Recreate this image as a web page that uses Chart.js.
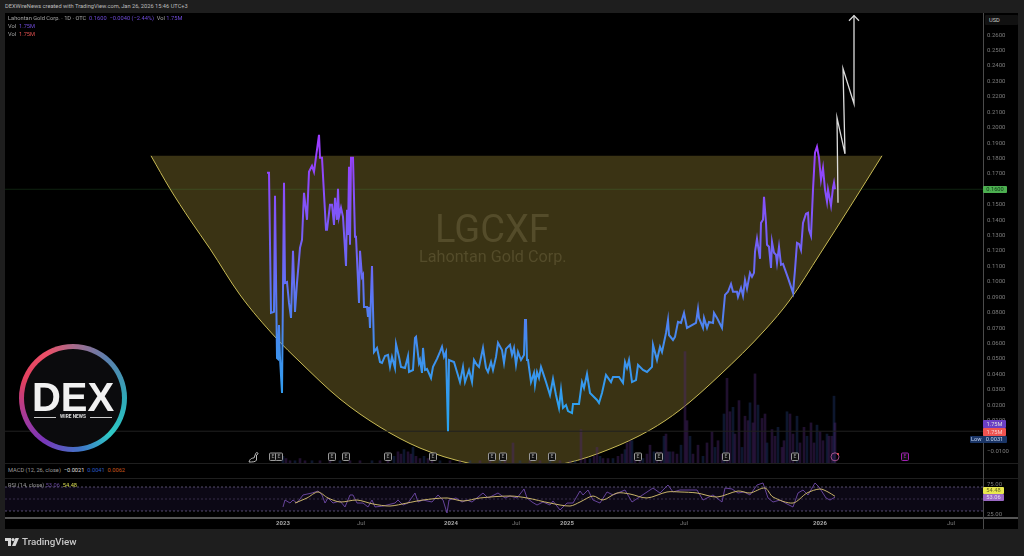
<!DOCTYPE html>
<html>
<head>
<meta charset="utf-8">
<title>LGCXF</title>
<script src="https://cdn.jsdelivr.net/npm/chart.js@4/dist/chart.umd.js"></script>
<style>
  html, body { margin: 0; padding: 0; background: #1e1e1e; }
  #page { position: relative; width: 1024px; height: 556px; overflow: hidden; background: #1e1e1e;
          font-family: Roboto, sans-serif; font-size: 5.7px; color: #b4b4b4; }
  #frame { position: absolute; left: 5px; top: 13px; width: 1013px; height: 516px; background: #000; }
  canvas { position: absolute; left: 5px; }
  .abs { position: absolute; white-space: nowrap; line-height: 1; }
  .hline { position: absolute; left: 5px; width: 1013px; height: 1px; background: #1f1f1f; }
  .tag { position: absolute; left: 983px; height: 8px; line-height: 8px; text-align: center; border-radius: 1px; }
</style>
</head>
<body>
<div id="page">
  <div id="frame"></div>
  <canvas id="priceChart" width="1013" height="450" style="top:13px"></canvas>
  <canvas id="rsiChart" width="1013" height="51" style="top:478px"></canvas>

  <div class="hline" style="top:463px"></div>
  <div class="hline" style="top:478px"></div>
  <div class="hline" style="top:517px;height:1.5px;background:#555"></div>
  <div class="abs" style="left:983px;top:13px;width:1px;height:516px;background:#4a4a4a"></div>

  <div class="abs" style="left:5px;top:4px;color:#bdbdbd">DEXWireNews created with TradingView.com, Jan 26, 2026 15:46 UTC+3</div>
  <div class="abs" style="left:8px;top:16px;color:#a8a8a8">Lahontan Gold Corp. · 1D · OTC&nbsp; <span style="color:#6f4bd8">0.1600 &nbsp;−0.0040 (−2.44%)</span> &nbsp;Vol <span style="color:#6f4bd8">1.75M</span></div>
  <div class="abs" style="left:8px;top:24px;color:#a8a8a8">Vol &nbsp;<span style="color:#6f4bd8">1.75M</span></div>
  <div class="abs" style="left:8px;top:32px;color:#a8a8a8">Vol &nbsp;<span style="color:#e0504f">1.75M</span></div>

  <div class="abs" style="left:435px;top:210px;font-size:38px;color:#544c2a">LGCXF</div>
  <div class="abs" style="left:419px;top:249px;font-size:16.2px;color:#544c2a">Lahontan Gold Corp.</div>

  <div class="abs" style="left:8px;top:468px;color:#9a9a9a">MACD (12, 26, close) &nbsp;<span style="color:#ddd">−0.0021</span> &nbsp;<span style="color:#2a5bc0">0.0041</span> &nbsp;<span style="color:#c8581e">0.0062</span></div>
  <div class="abs" style="left:8px;top:483px;color:#9a9a9a">RSI (14, close) <span style="color:#6a4aa0">53.06</span> &nbsp;<span style="color:#d8dc50">54.48</span></div>

  <div class="abs" style="left:985px;top:15px;width:33px;height:10px;line-height:10px;background:#111;border-radius:1px;color:#ccc;text-indent:4px">USD</div>
  <div class="tag" style="top:186px;width:24px;height:7px;line-height:7px;background:#4caf50;color:#12361a">0.1600</div>
  <div class="tag" style="top:420px;width:23px;background:#6a3fc4;color:#ddd">1.75M</div>
  <div class="tag" style="top:428px;width:23px;background:#ef5350;color:#f6c9c9">1.75M</div>
  <div class="tag" style="top:436px;left:970px;width:37px;height:7px;line-height:7px;background:#1a3566;color:#c3d2ee;text-align:left;text-indent:1px">Low &nbsp;&nbsp;0.0031</div>
  <div class="tag" style="top:487px;width:21px;height:7px;line-height:7px;background:#e8e84e;color:#6a6a20">54.48</div>
  <div class="tag" style="top:494px;width:21px;height:7px;line-height:7px;background:#9a68c4;color:#e4d4f2">53.06</div>

  <!-- dex logo -->
  <div class="abs" style="left:19px;top:344px;width:108px;height:108px;border-radius:50%;
       background:conic-gradient(from 0deg,#a86a8a,#5c7fae 40deg,#2fa9b8 90deg,#2fc9c6 135deg,#3f79c8 170deg,#7a35b8 215deg,#a83a98 250deg,#e2405f 290deg,#ec5068 330deg,#a86a8a)">
    <div style="position:absolute;left:5px;top:5px;width:98px;height:98px;border-radius:50%;background:#0b0b0d"></div>
    <div class="abs" style="left:12px;top:32.5px;width:84px;text-align:center;font:900 40px/1 'Liberation Sans',sans-serif;color:#f1f1f1">DEX</div>
    <div class="abs" style="left:15px;top:72.5px;width:22px;height:1px;background:#ccc"></div>
    <div class="abs" style="left:38px;top:70.5px;width:32px;text-align:center;font:700 4.8px/1 Roboto,sans-serif;color:#ddd">WIRE NEWS</div>
    <div class="abs" style="left:71px;top:72.5px;width:22px;height:1px;background:#ccc"></div>
  </div>

  <!-- small dino marker -->
  <svg class="abs" style="left:248px;top:451px" width="11" height="12" viewBox="0 0 11 12">
    <path d="M1 11 C2 7 5 7 6 7 L7.5 3 C8 1 10 1 10 3 L8.5 4 L8.5 9 C8 11 4 11 1 11 Z" fill="none" stroke="#ccc" stroke-width="0.9"/>
  </svg>

  <!-- tradingview footer -->
  <svg class="abs" style="left:5px;top:538px" width="14" height="8" viewBox="0 0 14 8">
    <path d="M0 0 H6 V8 H3 V3 H0 Z" fill="#d8d8d8"/><circle cx="8" cy="1.6" r="1.6" fill="#d8d8d8"/>
    <path d="M10.5 0 H14 L10.5 8 H7 Z" fill="#d8d8d8"/>
  </svg>
  <div class="abs" style="left:22px;top:537px;font-size:9.8px;font-weight:500;color:#c9c9c9">TradingView</div>
</div>

<script>
// x values are bar numbers along the time axis, y values are prices in USD
const timeTickBars = [283, 361, 451, 516, 567, 684, 820, 951];
const timeTickLabels = ['2023', 'Jul', '2024', 'Jul', '2025', 'Jul', '2026', 'Jul'];

const priceTicks = [-0.01, 0, 0.01, 0.02, 0.03, 0.04, 0.05, 0.06, 0.07, 0.08, 0.09, 0.10, 0.11, 0.12,
    0.13, 0.14, 0.15, 0.16, 0.17, 0.18, 0.19, 0.20, 0.21, 0.22, 0.23, 0.24, 0.25, 0.26];
const rsiTicks = [25, 75];

const priceBars = [
    267, 269, 271, 274, 275, 277, 278, 279, 280, 282,
    284, 285, 287, 289, 291, 293, 295, 297, 300, 302,
    304, 307, 309, 312, 314, 319, 320, 322, 326, 327,
    330, 332, 334, 335, 337, 338, 339, 341, 343, 346,
    347, 348, 349, 350, 351, 353, 355, 356, 359, 360,
    362, 363, 364, 367, 368, 369, 370, 372, 374, 377,
    380, 382, 385, 388, 390, 392, 395, 396, 399, 401,
    405, 408, 409, 413, 415, 416, 419, 420, 422, 423,
    425, 427, 431, 433, 437, 440, 442, 444, 446, 448,
    449, 454, 457, 460, 463, 465, 469, 472, 474, 477,
    479, 483, 486, 488, 491, 493, 496, 498, 502, 504,
    506, 510, 512, 514, 516, 518, 521, 524, 525, 526,
    527, 528, 531, 534, 535, 537, 539, 541, 543, 546,
    550, 553, 556, 559, 561, 563, 566, 568, 572, 573,
    579, 582, 584, 587, 590, 594, 597, 599, 602, 606,
    611, 613, 619, 623, 625, 627, 629, 632, 636, 638,
    643, 647, 652, 653, 657, 660, 662, 666, 668, 669,
    673, 675, 678, 681, 684, 687, 696, 698, 699, 703,
    704, 707, 709, 713, 714, 717, 722, 725, 728, 731,
    733, 737, 738, 741, 743, 745, 747, 750, 752, 754,
    755, 757, 760, 761, 763, 764, 766, 767, 769, 771,
    772, 774, 776, 777, 779, 781, 783, 788, 793, 795,
    797, 799, 801, 803, 806, 808, 809, 811, 813, 815,
    817, 819, 821, 823, 825, 827, 828, 831, 833, 834,
    835];
const priceValues = [
    0.1707, 0.1707, 0.0798, 0.0805, 0.1558, 0.0506, 0.0500, 0.0720, 0.0506, 0.0279,
    0.1642, 0.0993, 0.0999, 0.0863, 0.0766, 0.1201, 0.0805, 0.0993, 0.1220, 0.1272,
    0.1577, 0.1402, 0.1713, 0.1752, 0.1713, 0.1953, 0.1804, 0.1804, 0.1337, 0.1337,
    0.1499, 0.1499, 0.1369, 0.1545, 0.1402, 0.1603, 0.1421, 0.1480, 0.1421, 0.1103,
    0.1467, 0.1304, 0.1746, 0.1240, 0.1804, 0.1804, 0.1292, 0.1292, 0.0863, 0.1201,
    0.1032, 0.1045, 0.0837, 0.0837, 0.0772, 0.0837, 0.0701, 0.1103, 0.0545, 0.0571,
    0.0480, 0.0474, 0.0519, 0.0526, 0.0448, 0.0513, 0.0441, 0.0597, 0.0513, 0.0448,
    0.0441, 0.0519, 0.0415, 0.0428, 0.0636, 0.0643, 0.0474, 0.0493, 0.0409, 0.0571,
    0.0428, 0.0435, 0.0376, 0.0448, 0.0500, 0.0545, 0.0578, 0.0513, 0.0545, 0.0031,
    0.0493, 0.0480, 0.0415, 0.0350, 0.0448, 0.0350, 0.0428, 0.0350, 0.0493, 0.0461,
    0.0448, 0.0571, 0.0441, 0.0415, 0.0480, 0.0428, 0.0513, 0.0604, 0.0558, 0.0474,
    0.0565, 0.0591, 0.0526, 0.0571, 0.0461, 0.0545, 0.0493, 0.0526, 0.0753, 0.0753,
    0.0493, 0.0493, 0.0350, 0.0409, 0.0331, 0.0415, 0.0376, 0.0448, 0.0409, 0.0350,
    0.0266, 0.0370, 0.0266, 0.0182, 0.0299, 0.0182, 0.0201, 0.0162, 0.0149, 0.0208,
    0.0208, 0.0350, 0.0312, 0.0402, 0.0279, 0.0253, 0.0234, 0.0214, 0.0279, 0.0396,
    0.0350, 0.0383, 0.0383, 0.0344, 0.0480, 0.0441, 0.0493, 0.0350, 0.0363, 0.0461,
    0.0428, 0.0415, 0.0448, 0.0591, 0.0493, 0.0578, 0.0545, 0.0668, 0.0753, 0.0655,
    0.0623, 0.0643, 0.0740, 0.0733, 0.0798, 0.0701, 0.0733, 0.0824, 0.0766, 0.0701,
    0.0766, 0.0701, 0.0740, 0.0733, 0.0798, 0.0766, 0.0701, 0.0915, 0.0935, 0.0986,
    0.0935, 0.0935, 0.0902, 0.0961, 0.0909, 0.1012, 0.0954, 0.1058, 0.1032, 0.1058,
    0.1194, 0.1279, 0.1149, 0.1382, 0.1402, 0.1551, 0.1382, 0.1240, 0.1227, 0.1090,
    0.1259, 0.1188, 0.1175, 0.1123, 0.1227, 0.1110, 0.1116, 0.1025, 0.0928, 0.1077,
    0.1253, 0.1246, 0.1207, 0.1382, 0.1441, 0.1447, 0.1337, 0.1298, 0.1597, 0.1837,
    0.1876, 0.1804, 0.1661, 0.1739, 0.1597, 0.1519, 0.1597, 0.1493, 0.1610, 0.1642,
    0.1600];

const cupBars = [151, 170, 190, 210, 240, 276, 300, 340, 380, 420, 468, 517, 567, 610, 650, 680, 720, 765, 790, 820, 850, 882];
const cupValues = [0.1817, 0.1603, 0.1402, 0.1214, 0.0915, 0.0636, 0.0480, 0.0240, 0.0058, -0.0078, -0.0175,
    -0.0214, -0.0175, -0.0084, 0.0039, 0.0169, 0.0396, 0.0688, 0.0883, 0.1181, 0.1486, 0.1817];
const cupRim = 0.1817;

const forecastBars = [838, 837, 845, 843, 854, 854];
const forecastValues = [0.1512, 0.2064, 0.1830, 0.2382, 0.2155, 0.2726];
const arrowBars = [849, 854, 859];
const arrowValues = [0.2693, 0.2726, 0.2693];

const lastPrice = 0.16;
const lowPrice = 0.0031;

// volume in millions of shares
const volumeBars = [
    283, 286, 290, 295, 300, 305, 312, 320, 330, 340, 350, 360, 372, 380, 388, 394, 398, 401, 404, 408,
    411, 413, 416, 420, 424, 428, 432, 440, 450, 460, 470, 480, 490, 500, 505, 513, 520, 530, 540, 550,
    560, 570, 575, 581, 585, 590, 594, 597, 600, 603, 608, 613, 618, 622, 625, 627, 630, 632, 635, 640,
    643, 647, 650, 654, 657, 661, 664, 666, 668, 670, 673, 677, 681, 685, 687, 690, 693, 698, 703, 707,
    712, 715, 718, 722, 724, 727, 730, 733, 735, 739, 742, 745, 748, 750, 753, 755, 758, 762, 765, 767,
    772, 775, 778, 782, 784, 787, 790, 793, 797, 800, 804, 807, 811, 814, 817, 820, 823, 827, 829, 832,
    834, 835];
const volumeValues = [
    0.3, 0.2, 0.1, 0.1, 0.2, 0.1, 0.1, 0.1, 0.1, 0.1, 0.1, 0.1, 0.1, 0.1, 0.2, 0.3, 0.5, 0.4, 0.6, 0.5,
    0.4, 0.7, 0.3, 0.2, 0.3, 0.2, 0.2, 0.1, 0.1, 0.1, 0.1, 0.1, 0.1, 0.1, 0.2, 0.9, 0.1, 0.1, 0.1, 0.1,
    0.1, 0.1, 0.1, 1.5, 0.2, 0.2, 0.3, 0.7, 0.3, 0.2, 0.2, 0.2, 0.3, 0.4, 0.6, 0.9, 1.0, 1.0, 0.4, 0.3,
    0.2, 0.4, 0.8, 0.5, 0.5, 0.5, 1.2, 1.3, 0.5, 0.5, 0.5, 0.4, 0.8, 5.0, 1.9, 1.2, 0.4, 0.8, 0.3, 0.9,
    1.4, 0.7, 1.0, 0.4, 2.2, 3.8, 2.3, 2.5, 1.3, 2.8, 0.7, 2.1, 1.9, 2.7, 1.8, 4.0, 2.6, 2.0, 2.2, 0.9,
    1.5, 1.2, 1.6, 0.7, 1.0, 2.3, 2.2, 1.3, 2.1, 0.9, 1.6, 1.2, 1.8, 0.9, 1.7, 1.4, 1.0, 1.3, 1.2, 1.2,
    3.0, 1.8];

const earningsBars = [273, 279, 332, 346, 388, 433, 492, 503, 533, 552, 638, 659, 726, 795];
const nextEarningsBar = 905;
const todayBar = 835;

const rsiBars = [
    283, 285, 290, 293, 297, 303, 312, 318, 322, 325, 328, 333, 340, 345, 350, 353, 357, 363, 368, 372,
    375, 383, 395, 398, 403, 408, 415, 418, 423, 432, 438, 443, 447, 449, 456, 462, 467, 472, 478, 483,
    488, 498, 505, 510, 517, 524, 527, 532, 537, 543, 550, 553, 560, 567, 573, 580, 583, 588, 593, 600,
    607, 613, 625, 632, 638, 653, 660, 668, 673, 680, 690, 697, 703, 713, 722, 725, 732, 738, 744, 750,
    757, 763, 768, 773, 780, 787, 793, 798, 803, 808, 815, 819, 826, 830, 835];
const rsiValues = [
    36.7, 48.3, 43.3, 48.3, 43.3, 56.7, 60, 63.3, 56.7, 43.3, 51.7, 43.3, 46.7, 36.7, 56.7, 56.7, 43.3, 43.3, 36.7, 48.3,
    36.7, 38.3, 43.3, 48.3, 40, 43.3, 60, 45, 48.3, 45, 56.7, 48.3, 26.7, 48.3, 51.7, 45, 48.3, 45, 53.3, 60,
    51.7, 60, 51.7, 55, 51.7, 66.7, 51.7, 45, 40, 45, 40, 46.7, 31.7, 43.3, 43.3, 63.3, 56.7, 65, 48.3, 43.3,
    61.7, 56.7, 65, 45, 51.7, 68.3, 60, 73.3, 61.7, 65, 65, 65, 48.3, 56.7, 45, 68.3, 66.7, 60, 61.7, 56.7,
    73.3, 76.7, 51.7, 45, 48.3, 41.7, 36.7, 60, 65, 56.7, 76.7, 70, 51.7, 48.3, 53.06];

const rsiMaBars = [295, 307, 318, 328, 340, 357, 373, 390, 407, 423, 447, 463, 480, 510, 527, 550, 570, 580, 593, 603,
    617, 630, 647, 667, 680, 697, 717, 738, 750, 765, 773, 793, 807, 820, 828, 835];
const rsiMaValues = [43.3, 51.7, 61.7, 51.7, 45, 48.3, 41.7, 38.3, 43.3, 48.3, 51.7, 46.7, 51.7, 55, 51.7, 43.3, 38.3, 45, 55, 48.3,
    60, 58.3, 51.7, 61.7, 61.7, 60, 53.3, 63.3, 60, 68.3, 53.3, 43.3, 60, 66.7, 61.7, 54.48];

const rsiBandTop = 70;
const rsiBandMid = 50;
const rsiBandBottom = 30;

const xMin = 5;
const xMax = 983;

function toPoints(xs, ys) {
    return xs.map((x, i) => ({ x: x, y: ys[i] }));
}

function flatLine(value) {
    return [{ x: xMin, y: value }, { x: xMax, y: value }];
}

// keep the plot area flush with the canvas, labels may overhang
function fitRightAxis(axis) {
    axis.width = 35;
    axis.paddingTop = 0;
    axis.paddingBottom = 0;
}

function priceGradient(context) {
    const chart = context.chart;
    if (!chart.chartArea) return '#5b7bff';
    const y = chart.scales.y;
    const g = chart.ctx.createLinearGradient(0, y.getPixelForValue(0.19), 0, y.getPixelForValue(0.01));
    g.addColorStop(0, '#9c3cff');
    g.addColorStop(0.45, '#6a69f5');
    g.addColorStop(0.75, '#3f90ee');
    g.addColorStop(1, '#2aa3ee');
    return g;
}

// E boxes and the session marker along the bottom of the price pane
const eventMarkers = {
    id: 'eventMarkers',
    afterDatasetsDraw(chart) {
        const ctx = chart.ctx;
        const x = chart.scales.x;
        const top = chart.chartArea.bottom - 10;

        function box(bar, color) {
            const px = x.getPixelForValue(bar);
            ctx.strokeStyle = color;
            ctx.lineWidth = 1;
            ctx.fillStyle = '#111';
            ctx.beginPath();
            ctx.roundRect(px - 3.5, top, 7, 7.5, 1);
            ctx.fill();
            ctx.stroke();
            ctx.fillStyle = color;
            ctx.font = '5px Roboto';
            ctx.textAlign = 'center';
            ctx.textBaseline = 'middle';
            ctx.fillText('E', px, top + 4);
        }

        ctx.save();
        earningsBars.forEach(bar => box(bar, '#9a9a9a'));
        box(nextEarningsBar, '#a020b0');
        const px = x.getPixelForValue(todayBar);
        ctx.strokeStyle = '#a0508c';
        ctx.beginPath();
        ctx.arc(px, top + 3.8, 4, 0, Math.PI * 2);
        ctx.stroke();
        ctx.fillStyle = '#ef5350';
        ctx.beginPath();
        ctx.arc(px + 3, top + 1, 1, 0, Math.PI * 2);
        ctx.fill();
        ctx.restore();
    }
};

new Chart(document.getElementById('priceChart').getContext('2d'), {
    type: 'line',
    data: {
        datasets: [
            {
                data: toPoints(cupBars, cupValues),
                borderColor: '#c9bb55',
                borderWidth: 1,
                backgroundColor: '#3a3314',
                fill: { value: cupRim },
                cubicInterpolationMode: 'monotone',
                pointRadius: 0,
                order: 6
            },
            {
                type: 'bar',
                yAxisID: 'yVolume',
                data: toPoints(volumeBars, volumeValues),
                barThickness: 2,
                backgroundColor: ctx => ctx.dataIndex % 3 === 0 ? 'rgba(30,56,110,0.42)' : 'rgba(76,38,112,0.42)',
                order: 5
            },
            {
                data: flatLine(lastPrice),
                borderColor: 'rgba(76,175,80,0.2)',
                borderWidth: 1,
                pointRadius: 0,
                order: 4
            },
            {
                data: flatLine(lowPrice),
                borderColor: '#202020',
                borderWidth: 1,
                pointRadius: 0,
                order: 4
            },
            {
                data: toPoints(priceBars, priceValues),
                borderColor: priceGradient,
                borderWidth: 2,
                pointRadius: 0,
                order: 2
            },
            {
                data: toPoints(forecastBars, forecastValues),
                borderColor: '#dcdcdc',
                borderWidth: 1.3,
                pointRadius: 0,
                order: 1
            },
            {
                data: toPoints(arrowBars, arrowValues),
                borderColor: '#dcdcdc',
                borderWidth: 1.3,
                pointRadius: 0,
                order: 1
            }
        ]
    },
    plugins: [eventMarkers],
    options: {
        responsive: false,
        animation: false,
        layout: { padding: 0 },
        plugins: { legend: { display: false }, tooltip: { enabled: false } },
        scales: {
            x: {
                type: 'linear',
                min: xMin,
                max: xMax,
                offset: false,
                display: false
            },
            y: {
                position: 'right',
                min: -0.0175,
                max: 0.2743,
                grid: { display: false, drawTicks: false },
                border: { display: false },
                afterBuildTicks: axis => { axis.ticks = priceTicks.map(v => ({ value: v })); },
                afterFit: fitRightAxis,
                ticks: {
                    autoSkip: false,
                    color: '#7d7d7d',
                    font: { family: 'Roboto', size: 6 },
                    padding: 4,
                    callback: v => (v < 0 ? '−' : '') + Math.abs(v).toFixed(4)
                }
            },
            yVolume: {
                display: false,
                min: 0,
                max: 20.2
            }
        }
    }
});

new Chart(document.getElementById('rsiChart').getContext('2d'), {
    type: 'line',
    data: {
        datasets: [
            {
                data: flatLine(rsiBandTop),
                borderColor: 'rgba(150,135,190,0.7)',
                borderWidth: 0.8,
                borderDash: [2, 2],
                backgroundColor: 'rgba(110,70,190,0.11)',
                fill: { value: rsiBandBottom },
                pointRadius: 0,
                order: 4
            },
            {
                data: flatLine(rsiBandMid),
                borderColor: 'rgba(150,135,190,0.4)',
                borderWidth: 0.8,
                borderDash: [2, 2],
                pointRadius: 0,
                order: 4
            },
            {
                data: flatLine(rsiBandBottom),
                borderColor: 'rgba(150,135,190,0.7)',
                borderWidth: 0.8,
                borderDash: [2, 2],
                pointRadius: 0,
                order: 4
            },
            {
                data: toPoints(rsiBars, rsiValues),
                borderColor: '#6f4aa8',
                borderWidth: 0.9,
                pointRadius: 0,
                order: 2
            },
            {
                data: toPoints(rsiMaBars, rsiMaValues),
                borderColor: '#c9b46a',
                borderWidth: 1,
                tension: 0.3,
                pointRadius: 0,
                order: 1
            }
        ]
    },
    options: {
        responsive: false,
        animation: false,
        layout: { padding: 0 },
        plugins: { legend: { display: false }, tooltip: { enabled: false } },
        scales: {
            x: {
                type: 'linear',
                min: xMin,
                max: xMax,
                offset: false,
                grid: { display: false, drawTicks: false },
                border: { display: false },
                afterBuildTicks: axis => { axis.ticks = timeTickBars.map(v => ({ value: v })); },
                afterFit: axis => { axis.height = 12; },
                ticks: {
                    autoSkip: false,
                    maxRotation: 0,
                    padding: 3,
                    color: ctx => /^\d/.test(timeTickLabels[ctx.index]) ? '#a8a8a8' : '#7d7d7d',
                    font: ctx => ({
                        family: 'Roboto',
                        size: 6,
                        weight: /^\d/.test(timeTickLabels[ctx.index]) ? 'bold' : 'normal'
                    }),
                    callback: (v, i) => timeTickLabels[i]
                }
            },
            y: {
                position: 'right',
                min: 20,
                max: 85,
                grid: { display: false, drawTicks: false },
                border: { display: false },
                afterBuildTicks: axis => { axis.ticks = rsiTicks.map(v => ({ value: v })); },
                afterFit: fitRightAxis,
                ticks: {
                    autoSkip: false,
                    color: '#7d7d7d',
                    font: { family: 'Roboto', size: 6 },
                    padding: 4,
                    callback: v => v.toFixed(2)
                }
            }
        }
    }
});
</script>
</body>
</html>
